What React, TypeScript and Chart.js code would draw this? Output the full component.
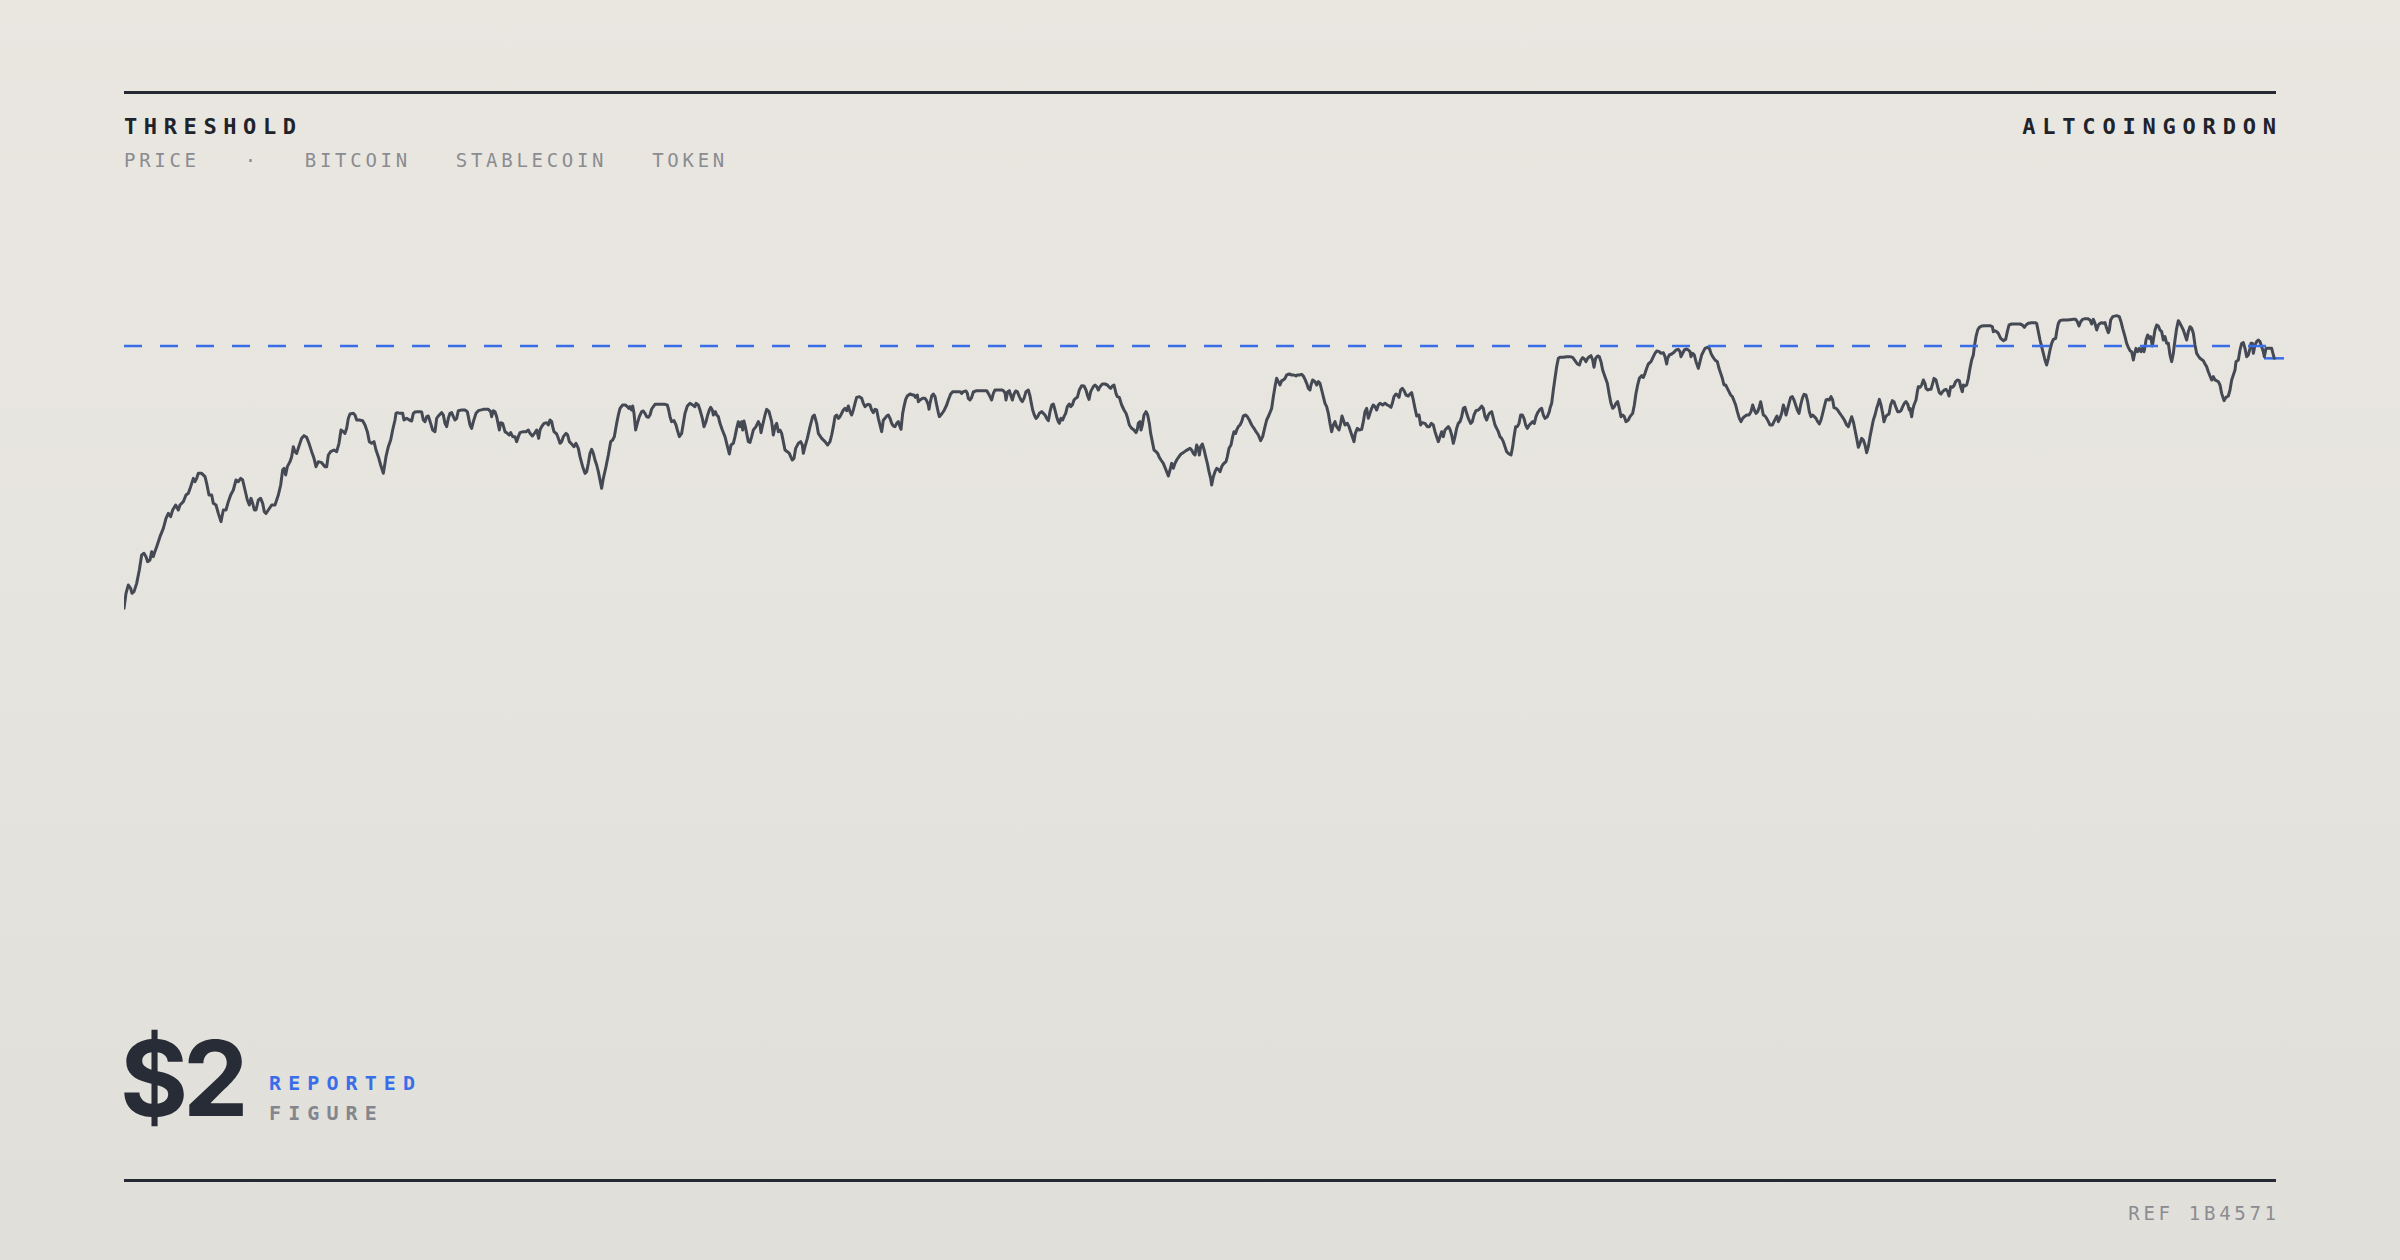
import React, { useEffect, useRef } from "react";
import { Chart, registerables } from "chart.js";

Chart.register(...registerables);

// [block, price in USD]
const rampPhase: Array<[number, number]> = [
  [42,1.213],[48,1.258],[55,1.283],[62,1.273],[66,1.258],[72,1.263],[80,1.288],[88,1.328],[95,1.373],[102,1.378],[108,1.368],[113,1.353],[120,1.358],[125,1.383],[130,1.368],[133,1.378],[140,1.398],[150,1.428],[160,1.453],[168,1.483],[175,1.498],[182,1.488],[188,1.508],[197,1.523],[205,1.508],[210,1.523],[220,1.533],[228,1.553],[235,1.558],[242,1.578],[250,1.603],[255,1.593],[260,1.603],[265,1.618],[275,1.618],[285,1.608],[290,1.588],[297,1.553],[305,1.553],[310,1.528],[318,1.523],[325,1.498],[333,1.473],[340,1.508],[348,1.508],[355,1.533],[362,1.553],[370,1.568],[378,1.598],[385,1.593],[392,1.603],[398,1.598],[405,1.568],[412,1.538],[418,1.523],[423,1.543],[428,1.528],[433,1.508],[438,1.508],[445,1.538],[452,1.543],[458,1.528],[463,1.503],[468,1.498],[475,1.508],[485,1.523],[495,1.523],[505,1.553],[512,1.583],[518,1.628],[522,1.633],[527,1.613],[532,1.638],[540,1.653],[545,1.668],[550,1.698],[555,1.683],[560,1.678],[568,1.703],[575,1.723],[582,1.731],[590,1.726],[597,1.708],[605,1.683],[612,1.663],[618,1.638],[625,1.653],[635,1.650],[645,1.638],[650,1.638],[655,1.673],[662,1.683],[672,1.688],[680,1.683],[687,1.708],[693,1.748],[700,1.743],[705,1.738],[710,1.753],[715,1.783],[720,1.796],[730,1.798],[735,1.793],[740,1.778],[748,1.778],[758,1.776],[765,1.763],[772,1.743],[778,1.713],[785,1.708],[792,1.713],[798,1.688],[805,1.668],[812,1.643],[820,1.618],[828,1.668],[835,1.698],[842,1.718],[848,1.748],[855,1.778],[858,1.798],[862,1.800],[870,1.798],[878,1.798],[882,1.778],[890,1.783],[898,1.778],[905,1.775],[910,1.798],[915,1.802],[922,1.803],[930,1.803],[935,1.802],[940,1.778],[945,1.773],[950,1.788],[955,1.790],[962,1.768],[968,1.748],[975,1.743],[980,1.783],[985,1.790],[995,1.800],[1000,1.793],[1005,1.768],[1010,1.758],[1015,1.783],[1020,1.798],[1025,1.800],[1030,1.788],[1035,1.778],[1040,1.783],[1045,1.806],[1055,1.808],[1065,1.808],[1072,1.803],[1078,1.773]
];

const plateauPhase: Array<[number, number]> = [
  [1080,1.763],[1085,1.753],[1090,1.773],[1098,1.798],[1105,1.806],[1120,1.810],[1135,1.810],[1142,1.803],[1145,1.788],[1150,1.806],[1155,1.803],[1160,1.788],[1165,1.763],[1168,1.748],[1172,1.770],[1178,1.768],[1185,1.743],[1192,1.738],[1198,1.733],[1202,1.740],[1208,1.728],[1215,1.728],[1220,1.713],[1225,1.728],[1230,1.740],[1240,1.743],[1248,1.743],[1255,1.748],[1260,1.738],[1267,1.730],[1275,1.740],[1280,1.748],[1286,1.723],[1290,1.748],[1295,1.758],[1302,1.768],[1310,1.770],[1315,1.763],[1320,1.778],[1325,1.773],[1328,1.758],[1332,1.743],[1340,1.736],[1345,1.723],[1350,1.708],[1355,1.713],[1360,1.728],[1368,1.738],[1373,1.733],[1378,1.713],[1385,1.706],[1392,1.698],[1398,1.708],[1405,1.693],[1410,1.668],[1418,1.638],[1425,1.618],[1430,1.623],[1435,1.648],[1440,1.678],[1445,1.690],[1450,1.678],[1455,1.658],[1460,1.643],[1465,1.623],[1470,1.598],[1475,1.573],[1480,1.603],[1488,1.638],[1495,1.673],[1502,1.713],[1508,1.718],[1513,1.728],[1520,1.768],[1525,1.793],[1530,1.813],[1538,1.823],[1546,1.823],[1552,1.818],[1557,1.813],[1560,1.818],[1565,1.808],[1568,1.820],[1572,1.798],[1577,1.748],[1582,1.768],[1588,1.788],[1595,1.803],[1600,1.805],[1605,1.798],[1610,1.788],[1615,1.786],[1620,1.793],[1625,1.811],[1635,1.825],[1650,1.825],[1665,1.825],[1672,1.823],[1676,1.808],[1680,1.788],[1685,1.773],[1692,1.776],[1698,1.763],[1702,1.748],[1708,1.728],[1715,1.738],[1720,1.768],[1725,1.798],[1732,1.820],[1740,1.828],[1748,1.823],[1755,1.818],[1758,1.828],[1765,1.823],[1770,1.808],[1777,1.783],[1782,1.758],[1788,1.773],[1793,1.793],[1798,1.808],[1802,1.816],[1807,1.808],[1810,1.793],[1816,1.803],[1820,1.793],[1825,1.788],[1830,1.768],[1837,1.748],[1845,1.728],[1850,1.708],[1855,1.688],[1858,1.676],[1863,1.703],[1870,1.708],[1875,1.728],[1880,1.753],[1885,1.773],[1890,1.758],[1895,1.773],[1898,1.748],[1902,1.775],[1906,1.758],[1910,1.738],[1915,1.713],[1920,1.711],[1925,1.728],[1930,1.748],[1938,1.758],[1945,1.773],[1950,1.763],[1953,1.740],[1958,1.763],[1965,1.793],[1970,1.810],[1977,1.803],[1985,1.773],[1990,1.733],[1995,1.758],[2000,1.768],[2005,1.743],[2010,1.748],[2015,1.738],[2020,1.713],[2025,1.688],[2032,1.683],[2038,1.678],[2042,1.668],[2047,1.658],[2052,1.663],[2057,1.693],[2065,1.708],[2072,1.713],[2077,1.703],[2080,1.678],[2085,1.698],[2092,1.723],[2100,1.758],[2108,1.788],[2113,1.793],[2120,1.768],[2125,1.738],[2135,1.723],[2145,1.713],[2153,1.703]
];

const rangePhase: Array<[number, number]> = [
  [2160,1.713],[2165,1.733],[2170,1.758],[2175,1.788],[2180,1.793],[2185,1.783],[2190,1.788],[2195,1.798],[2200,1.808],[2205,1.813],[2210,1.806],[2215,1.820],[2220,1.803],[2225,1.793],[2230,1.808],[2235,1.828],[2240,1.846],[2248,1.848],[2255,1.843],[2260,1.828],[2265,1.818],[2270,1.823],[2275,1.825],[2280,1.823],[2285,1.808],[2290,1.800],[2295,1.810],[2300,1.808],[2305,1.783],[2310,1.763],[2315,1.743],[2320,1.778],[2325,1.783],[2330,1.790],[2335,1.793],[2340,1.783],[2345,1.768],[2350,1.760],[2355,1.758],[2360,1.768],[2365,1.773],[2370,1.758],[2373,1.750],[2378,1.798],[2382,1.818],[2387,1.840],[2392,1.850],[2400,1.856],[2408,1.853],[2412,1.853],[2416,1.846],[2422,1.853],[2425,1.833],[2430,1.838],[2438,1.843],[2445,1.843],[2450,1.836],[2455,1.823],[2457,1.810],[2460,1.828],[2465,1.850],[2470,1.856],[2475,1.848],[2480,1.823],[2485,1.800],[2488,1.788],[2495,1.796],[2502,1.806],[2510,1.823],[2515,1.838],[2522,1.856],[2528,1.863],[2538,1.863],[2550,1.863],[2555,1.858],[2560,1.863],[2568,1.865],[2572,1.858],[2575,1.843],[2580,1.838],[2585,1.846],[2590,1.862],[2600,1.866],[2610,1.866],[2622,1.866],[2630,1.866],[2635,1.858],[2640,1.848],[2645,1.838],[2650,1.858],[2655,1.868],[2665,1.868],[2675,1.868],[2680,1.866],[2685,1.860],[2688,1.838],[2693,1.863],[2698,1.866],[2703,1.850],[2707,1.838],[2712,1.856],[2717,1.865],[2722,1.863],[2728,1.848],[2733,1.838],[2737,1.833],[2742,1.843],[2748,1.863],[2755,1.868],[2760,1.850],[2763,1.833],[2768,1.808],[2773,1.793],[2778,1.783],[2783,1.788],[2788,1.798],[2795,1.803],[2800,1.798],[2805,1.793],[2810,1.783],[2815,1.776],[2820,1.803],[2825,1.823],[2830,1.826],[2835,1.808],[2840,1.788],[2845,1.773],[2848,1.768],[2853,1.783],[2858,1.778],[2862,1.788],[2867,1.798],[2872,1.818],[2878,1.826],[2882,1.818],[2887,1.823],[2892,1.838],[2897,1.843],[2902,1.846],[2908,1.868],[2915,1.881],[2922,1.880],[2928,1.868],[2933,1.850],[2937,1.840],[2942,1.863],[2950,1.878],[2955,1.883],[2960,1.878],[2965,1.868],[2970,1.878],[2977,1.886],[2985,1.886],[2992,1.883],[2998,1.876],[3002,1.873],[3007,1.880],[3012,1.883],[3018,1.858],[3022,1.848],[3028,1.846],[3035,1.823],[3042,1.808],[3048,1.798],[3053,1.783],[3058,1.763],[3065,1.753],[3072,1.748],[3078,1.740],[3082,1.750],[3085,1.768],[3090,1.773],[3093,1.748],[3097,1.763],[3102,1.793],[3108,1.803],[3113,1.793],[3118,1.768],[3122,1.738],[3128,1.708],[3132,1.688],[3138,1.683],[3143,1.678],[3148,1.666],[3153,1.658],[3160,1.648],[3168,1.628],[3175,1.610],[3180,1.628],[3185,1.648],[3190,1.633],[3195,1.648],[3200,1.658],[3207,1.668],[3213,1.676],[3220,1.680],[3228,1.686],[3235,1.690]
];

const recoveryPhase: Array<[number, number]> = [
  [3240,1.693],[3245,1.688],[3250,1.678],[3255,1.673],[3260,1.703],[3265,1.690],[3268,1.673],[3272,1.698],[3277,1.706],[3282,1.690],[3287,1.668],[3292,1.648],[3297,1.623],[3302,1.603],[3305,1.583],[3310,1.608],[3315,1.623],[3320,1.633],[3327,1.628],[3330,1.623],[3335,1.638],[3340,1.646],[3348,1.653],[3352,1.668],[3357,1.693],[3363,1.703],[3368,1.728],[3372,1.743],[3377,1.738],[3380,1.748],[3385,1.758],[3390,1.763],[3395,1.773],[3400,1.790],[3407,1.793],[3412,1.788],[3418,1.778],[3425,1.763],[3432,1.753],[3438,1.743],[3445,1.733],[3452,1.716],[3458,1.728],[3465,1.758],[3470,1.778],[3477,1.793],[3485,1.813],[3490,1.848],[3495,1.878],[3500,1.903],[3505,1.893],[3510,1.883],[3515,1.896],[3520,1.898],[3525,1.903],[3530,1.913],[3538,1.916],[3545,1.913],[3552,1.913],[3558,1.910],[3562,1.913],[3568,1.913],[3575,1.915],[3580,1.910],[3585,1.900],[3590,1.888],[3595,1.873],[3600,1.868],[3603,1.883],[3608,1.898],[3615,1.893],[3620,1.883],[3625,1.893],[3630,1.888],[3635,1.868],[3640,1.848],[3645,1.828],[3650,1.818],[3655,1.798],[3660,1.768],[3665,1.743],[3670,1.763],[3675,1.773],[3680,1.758],[3687,1.748],[3692,1.768],[3696,1.790],[3700,1.778],[3705,1.763],[3712,1.768],[3717,1.758],[3722,1.743],[3727,1.728],[3732,1.713],[3736,1.738],[3742,1.753],[3748,1.748],[3755,1.750],[3760,1.773],[3765,1.803],[3770,1.813],[3775,1.783],[3780,1.798],[3785,1.813],[3790,1.823],[3795,1.818],[3800,1.808],[3805,1.823],[3810,1.828],[3818,1.823],[3825,1.828],[3832,1.823],[3838,1.820],[3843,1.816],[3847,1.828],[3852,1.848],[3858,1.856],[3862,1.853],[3867,1.846],[3872,1.868],[3877,1.873],[3882,1.866],[3888,1.853],[3895,1.850],[3900,1.856],[3905,1.860],[3910,1.838],[3915,1.813],[3920,1.790],[3927,1.793],[3932,1.763],[3937,1.770],[3945,1.768],[3952,1.758],[3958,1.758],[3964,1.768],[3970,1.763],[3975,1.743],[3980,1.728],[3985,1.713],[3990,1.728],[3995,1.743],[4000,1.728],[4005,1.748],[4010,1.753],[4015,1.758],[4020,1.750],[4025,1.733],[4030,1.708],[4035,1.728],[4040,1.753],[4045,1.768],[4050,1.773],[4055,1.788],[4060,1.813],[4065,1.816],[4070,1.798],[4075,1.783],[4082,1.768],[4087,1.773],[4092,1.793],[4098,1.806],[4105,1.808],[4110,1.813],[4115,1.820],[4120,1.813],[4125,1.788],[4130,1.778],[4135,1.793],[4140,1.800],[4145,1.803],[4150,1.783],[4155,1.763],[4160,1.753],[4165,1.743],[4170,1.728],[4175,1.723],[4180,1.713],[4185,1.698],[4190,1.683],[4197,1.676],[4203,1.673],[4208,1.698],[4212,1.728],[4217,1.758],[4222,1.758],[4227,1.768],[4232,1.793],[4237,1.793],[4242,1.783],[4247,1.763],[4252,1.753],[4258,1.763],[4263,1.768],[4268,1.773],[4273,1.768],[4278,1.788],[4283,1.800],[4290,1.810],[4295,1.813],[4300,1.793],[4305,1.783],[4312,1.788],[4318,1.803]
];

const breakoutPhase: Array<[number, number]> = [
  [4320,1.813],[4325,1.828],[4330,1.868],[4335,1.903],[4340,1.938],[4345,1.963],[4350,1.966],[4360,1.966],[4370,1.968],[4380,1.968],[4388,1.966],[4395,1.956],[4402,1.946],[4408,1.943],[4413,1.958],[4418,1.965],[4423,1.961],[4428,1.953],[4433,1.963],[4438,1.968],[4443,1.971],[4448,1.958],[4452,1.936],[4457,1.963],[4463,1.970],[4468,1.968],[4473,1.953],[4478,1.928],[4485,1.908],[4492,1.888],[4498,1.853],[4503,1.828],[4508,1.813],[4513,1.818],[4518,1.828],[4523,1.833],[4528,1.813],[4533,1.788],[4538,1.793],[4543,1.788],[4548,1.773],[4555,1.778],[4560,1.788],[4568,1.798],[4573,1.823],[4578,1.858],[4583,1.883],[4588,1.903],[4595,1.911],[4600,1.906],[4605,1.918],[4610,1.933],[4615,1.946],[4623,1.953],[4630,1.968],[4635,1.978],[4640,1.985],[4648,1.983],[4653,1.978],[4660,1.980],[4665,1.968],[4670,1.946],[4673,1.963],[4678,1.973],[4685,1.976],[4692,1.981],[4698,1.988],[4705,1.990],[4710,1.983],[4713,1.968],[4718,1.978],[4723,1.988],[4730,1.991],[4735,1.988],[4740,1.983],[4743,1.968],[4748,1.978],[4753,1.973],[4758,1.953],[4765,1.933],[4770,1.953],[4775,1.973],[4780,1.983],[4785,1.993],[4792,1.996],[4798,1.993],[4803,1.978],[4808,1.968],[4815,1.958],[4822,1.953],[4827,1.933],[4832,1.918],[4837,1.903],[4842,1.883],[4847,1.883],[4852,1.873],[4857,1.863],[4862,1.853],[4867,1.848],[4872,1.836],[4877,1.823],[4882,1.803],[4888,1.783],[4893,1.773],[4898,1.783],[4903,1.788],[4910,1.793],[4917,1.793],[4923,1.803],[4928,1.823],[4933,1.808],[4938,1.798],[4943,1.803],[4948,1.818],[4952,1.833],[4956,1.813],[4960,1.793],[4965,1.790],[4970,1.783],[4975,1.773],[4980,1.763],[4987,1.763],[4992,1.773],[4997,1.783],[5001,1.790],[5005,1.773],[5010,1.783],[5015,1.798],[5020,1.823],[5025,1.808],[5028,1.793],[5032,1.808],[5037,1.828],[5042,1.846],[5047,1.848],[5052,1.838],[5057,1.823],[5062,1.808],[5067,1.798],[5072,1.823],[5077,1.843],[5082,1.855],[5088,1.853],[5093,1.833],[5098,1.803],[5103,1.788],[5108,1.793],[5113,1.788],[5118,1.783],[5123,1.773],[5128,1.766],[5133,1.778],[5138,1.798],[5143,1.818],[5148,1.838],[5153,1.840],[5158,1.838],[5163,1.848],[5168,1.838],[5172,1.815],[5178,1.813],[5183,1.808],[5188,1.800],[5193,1.793],[5198,1.786],[5203,1.778],[5210,1.763],[5215,1.758],[5220,1.773],[5225,1.788],[5230,1.773],[5235,1.748],[5240,1.723],[5245,1.696],[5250,1.708],[5255,1.723],[5260,1.718],[5265,1.703],[5270,1.680],[5275,1.698],[5280,1.728],[5285,1.753],[5290,1.778],[5295,1.793],[5300,1.813],[5305,1.828],[5308,1.840],[5313,1.823],[5318,1.798],[5322,1.773],[5327,1.788],[5332,1.793],[5337,1.796],[5342,1.823],[5347,1.836],[5352,1.833],[5357,1.818],[5363,1.803],[5368,1.803],[5373,1.806],[5378,1.818],[5383,1.828],[5388,1.833],[5393,1.826],[5398,1.808]
];

const finalPhase: Array<[number, number]> = [
  [5400,1.813],[5405,1.788],[5408,1.808],[5412,1.823],[5418,1.838],[5422,1.863],[5425,1.878],[5430,1.876],[5435,1.883],[5440,1.898],[5445,1.888],[5448,1.873],[5453,1.868],[5458,1.870],[5463,1.870],[5468,1.888],[5472,1.903],[5478,1.898],[5483,1.878],[5488,1.860],[5493,1.856],[5498,1.863],[5503,1.868],[5508,1.870],[5513,1.863],[5517,1.850],[5522,1.878],[5527,1.876],[5532,1.881],[5537,1.893],[5542,1.898],[5548,1.896],[5552,1.878],[5557,1.863],[5560,1.883],[5565,1.880],[5570,1.883],[5575,1.903],[5580,1.933],[5585,1.958],[5590,1.973],[5593,1.998],[5598,2.028],[5603,2.048],[5608,2.056],[5615,2.060],[5625,2.061],[5640,2.061],[5647,2.058],[5650,2.043],[5655,2.046],[5660,2.043],[5665,2.038],[5672,2.023],[5680,2.016],[5687,2.020],[5692,2.043],[5697,2.063],[5705,2.066],[5715,2.066],[5730,2.066],[5737,2.063],[5743,2.056],[5748,2.063],[5755,2.068],[5765,2.070],[5775,2.070],[5780,2.068],[5785,2.043],[5790,2.018],[5795,1.998],[5800,1.978],[5805,1.958],[5810,1.943],[5815,1.963],[5820,1.988],[5825,2.008],[5830,2.020],[5837,2.023],[5840,2.043],[5845,2.068],[5850,2.076],[5858,2.078],[5870,2.078],[5880,2.079],[5890,2.080],[5897,2.080],[5902,2.073],[5907,2.060],[5912,2.073],[5918,2.080],[5925,2.082],[5933,2.082],[5940,2.078],[5945,2.066],[5950,2.080],[5955,2.068],[5960,2.048],[5965,2.063],[5970,2.068],[5975,2.070],[5980,2.068],[5985,2.070],[5990,2.053],[5995,2.040],[5998,2.048],[6002,2.078],[6008,2.088],[6020,2.091],[6028,2.088],[6033,2.073],[6038,2.053],[6045,2.028],[6050,2.008],[6055,1.996],[6060,1.986],[6065,1.983],[6070,1.958],[6073,1.973],[6078,1.993],[6083,1.983],[6088,1.993],[6093,1.983],[6097,1.993],[6102,1.983],[6105,1.998],[6108,2.018],[6113,2.033],[6118,2.023],[6122,2.028],[6127,2.000],[6130,2.018],[6135,2.048],[6140,2.063],[6145,2.060],[6150,2.048],[6155,2.043],[6160,2.018],[6165,2.028],[6170,2.008],[6175,2.008],[6180,1.973],[6185,1.953],[6190,1.978],[6195,2.018],[6200,2.053],[6205,2.076],[6210,2.068],[6215,2.058],[6220,2.048],[6225,2.033],[6230,2.018],[6235,2.043],[6240,2.058],[6245,2.053],[6250,2.038],[6255,2.003],[6260,1.978],[6265,1.970],[6270,1.963],[6280,1.956],[6285,1.946],[6290,1.938],[6295,1.923],[6300,1.910],[6305,1.898],[6310,1.908],[6315,1.898],[6320,1.896],[6325,1.893],[6330,1.883],[6335,1.858],[6342,1.836],[6348,1.846],[6355,1.850],[6360,1.868],[6365,1.898],[6370,1.913],[6375,1.928],[6378,1.953],[6385,1.958],[6390,1.988],[6395,2.008],[6400,2.010],[6405,1.993],[6410,1.968],[6415,1.973],[6420,1.993],[6423,2.008],[6427,2.008],[6430,1.978],[6435,2.003],[6440,2.013],[6445,2.018],[6450,2.013],[6455,1.998],[6460,1.983],[6463,1.968],[6468,1.993],[6475,1.993],[6485,1.993],[6490,1.973],[6493,1.963]
];

const THRESHOLD_PRICE = 2.0;
const X_RANGE = [42, 6522];
const Y_RANGE = [0.938, 2.138];
const LAST_MARK_START = 6462;

const subtitleItems = ["PRICE", "·", "BITCOIN", "STABLECOIN", "TOKEN"];

const MONO = '"DejaVu Sans Mono", monospace';
const INK = "#262a33";
const GREY = "#8a8c92";
const BLUE = "#3a6ee8";
const LINE = "#444954";

export default function App() {
  const canvasRef = useRef<HTMLCanvasElement | null>(null);

  useEffect(() => {
    const canvas = canvasRef.current;
    if (!canvas) return;
    const all = [...rampPhase, ...plateauPhase, ...rangePhase, ...recoveryPhase, ...breakoutPhase, ...finalPhase];
    const priceData = all.map(([x, y]) => ({ x, y }));
    const last = all[all.length - 1];
    const chart = new Chart(canvas, {
      type: "line",
      data: {
        datasets: [
          {
            label: "Threshold",
            data: [
              { x: X_RANGE[0], y: THRESHOLD_PRICE },
              { x: X_RANGE[1], y: THRESHOLD_PRICE },
            ],
            borderColor: BLUE,
            borderWidth: 2.5,
            borderDash: [18, 18],
            pointRadius: 0,
            clip: false as any,
          },
          {
            label: "Price",
            data: priceData,
            borderColor: LINE,
            borderWidth: 3,
            pointRadius: 0,
            tension: 0,
            borderJoinStyle: "round",
            borderCapStyle: "round",
            clip: false as any,
          },
          {
            label: "Last",
            data: [
              { x: LAST_MARK_START, y: last[1] },
              { x: X_RANGE[1], y: last[1] },
            ],
            borderColor: BLUE,
            borderWidth: 2.5,
            pointRadius: 0,
            clip: false as any,
          },
        ],
      },
      options: {
        animation: false,
        responsive: false,
        devicePixelRatio: 1,
        layout: { padding: 0 },
        plugins: { legend: { display: false }, tooltip: { enabled: false } },
        scales: {
          x: { type: "linear", min: X_RANGE[0], max: X_RANGE[1], display: false },
          y: { type: "linear", min: Y_RANGE[0], max: Y_RANGE[1], display: false },
        },
      },
    });
    return () => chart.destroy();
  }, []);

  return (
    <div
      style={{
        position: "fixed",
        left: 0,
        top: 0,
        width: 2400,
        height: 1260,
        overflow: "hidden",
        background: "linear-gradient(180deg, #eae7e1 0%, #e6e4de 50%, #e0dfda 100%)",
      }}
    >
      <div style={{ position: "absolute", left: 124, top: 91, width: 2152, height: 3, background: INK }} />
      <div
        style={{
          position: "absolute",
          left: 124,
          top: 116,
          fontFamily: MONO,
          fontWeight: 700,
          fontSize: 22,
          lineHeight: "22px",
          letterSpacing: 6.6,
          color: "#1f232b",
          whiteSpace: "nowrap",
        }}
      >
        THRESHOLD
      </div>
      <div
        style={{
          position: "absolute",
          right: 124,
          top: 116,
          fontFamily: MONO,
          fontWeight: 700,
          fontSize: 22,
          lineHeight: "22px",
          letterSpacing: 6.8,
          marginRight: -6.8,
          color: "#1f232b",
          whiteSpace: "nowrap",
        }}
      >
        ALTCOINGORDON
      </div>
      <div
        style={{
          position: "absolute",
          left: 124,
          top: 151,
          display: "flex",
          gap: 45,
          fontFamily: MONO,
          fontSize: 19,
          lineHeight: "19px",
          letterSpacing: 3.7,
          color: GREY,
          whiteSpace: "nowrap",
        }}
      >
        {subtitleItems.map((s, i) => (
          <span key={i}>{s}</span>
        ))}
      </div>

      <canvas
        ref={canvasRef}
        width={2160}
        height={400}
        style={{ position: "absolute", left: 124, top: 300, width: 2160, height: 400 }}
      />

      <div
        style={{
          position: "absolute",
          left: 120,
          top: 1026,
          fontFamily: "Inter, sans-serif",
          fontWeight: 700,
          fontSize: 104,
          lineHeight: "104px",
          letterSpacing: -5,
          color: "#272c37",
          whiteSpace: "nowrap",
        }}
      >
        $2
      </div>
      <div
        style={{
          position: "absolute",
          left: 269,
          top: 1073,
          fontFamily: MONO,
          fontWeight: 700,
          fontSize: 20,
          lineHeight: "20px",
          letterSpacing: 7.1,
          color: BLUE,
          whiteSpace: "nowrap",
        }}
      >
        REPORTED
      </div>
      <div
        style={{
          position: "absolute",
          left: 269,
          top: 1103,
          fontFamily: MONO,
          fontWeight: 700,
          fontSize: 20,
          lineHeight: "20px",
          letterSpacing: 7.1,
          color: "#84868d",
          whiteSpace: "nowrap",
        }}
      >
        FIGURE
      </div>

      <div style={{ position: "absolute", left: 124, top: 1179, width: 2152, height: 3, background: INK }} />
      <div
        style={{
          position: "absolute",
          right: 124,
          top: 1204,
          fontFamily: MONO,
          fontSize: 19,
          lineHeight: "19px",
          letterSpacing: 3.7,
          marginRight: -3.7,
          color: GREY,
          whiteSpace: "nowrap",
        }}
      >
        REF 1B4571
      </div>
    </div>
  );
}
